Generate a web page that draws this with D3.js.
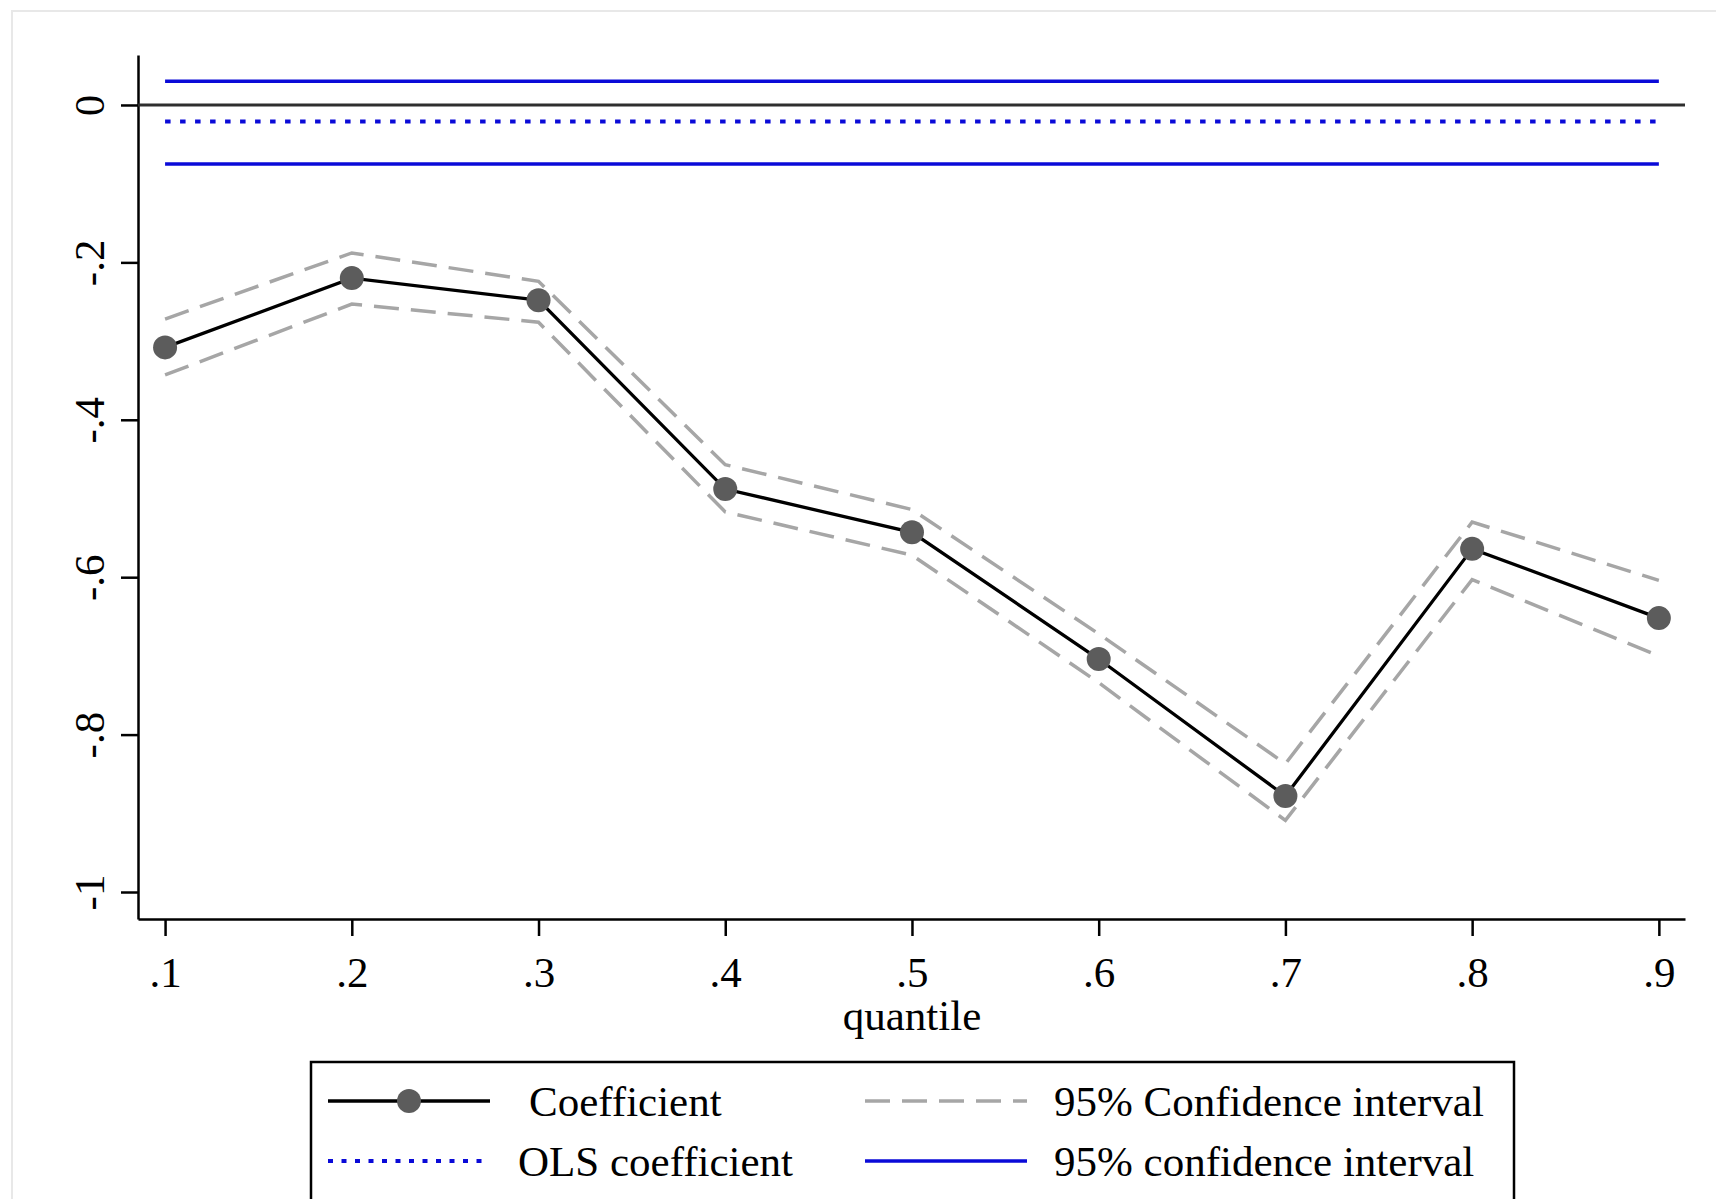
<!DOCTYPE html>
<meta charset="utf-8">
<script src="https://cdn.jsdelivr.net/npm/d3@7/dist/d3.min.js"></script>
<style>
  body { margin: 0; background: #fff; }
  svg text { font-family: "Liberation Serif", "Times New Roman", serif; font-size: 43px; fill: #000; }
</style>
<body>
<svg id="chart" width="1716" height="1199"></svg>
<script>
// quantiles and estimates
var quantiles = [0.1, 0.2, 0.3, 0.4, 0.5, 0.6, 0.7, 0.8, 0.9];
var coef  = [-0.308, -0.220, -0.248, -0.488, -0.543, -0.704, -0.878, -0.564, -0.652];
var ciUp  = [-0.272, -0.188, -0.224, -0.457, -0.514, -0.672, -0.837, -0.530, -0.604];
var ciLow = [-0.343, -0.253, -0.276, -0.517, -0.572, -0.734, -0.909, -0.603, -0.700];

var olsCoef = -0.021;
var olsUp = 0.030;
var olsLow = -0.075;

var yTicks = [0, -0.2, -0.4, -0.6, -0.8, -1];
var yTickLabels = ["0", "-.2", "-.4", "-.6", "-.8", "-1"];
var xTickLabels = [".1", ".2", ".3", ".4", ".5", ".6", ".7", ".8", ".9"];

var legendLabels = ["Coefficient", "95% Confidence interval", "OLS coefficient", "95% confidence interval"];

var svg = d3.select("#chart");

// faint outer frame
svg.append("rect").attr("x", 12).attr("y", 11).attr("width", 1800).attr("height", 1300)
  .style("fill", "#fff").style("stroke", "#e8e8e8").style("stroke-width", 2);

var x = d3.scaleLinear().domain([0.0855, 0.914]).range([138, 1685]);
var y = d3.scaleLinear().domain([-1.0343, 0.0635]).range([919, 55]);

// y axis
var yAx = svg.append("g").attr("transform", "translate(138,0)")
  .call(d3.axisLeft(y).tickValues(yTicks).tickSize(17).tickSizeOuter(0)
    .tickFormat(function (d, i) { return yTickLabels[i]; }));
yAx.select(".domain").style("stroke", "#000").style("stroke-width", 2.5);
yAx.selectAll(".tick line").style("stroke", "#000").style("stroke-width", 2.5);
yAx.selectAll(".tick text").attr("x", 0).attr("dy", 0).attr("text-anchor", "middle")
  .attr("transform", "translate(-34,0) rotate(-90)").style("font-size", "43px").style("font-family", null);

// x axis
var xAx = svg.append("g").attr("transform", "translate(0,919)")
  .call(d3.axisBottom(x).tickValues(quantiles).tickSize(17).tickSizeOuter(0)
    .tickFormat(function (d, i) { return xTickLabels[i]; }));
xAx.select(".domain").style("stroke", "#000").style("stroke-width", 2.5);
xAx.selectAll(".tick line").style("stroke", "#000").style("stroke-width", 2.5);
xAx.selectAll(".tick text").attr("y", 68).attr("dy", 0).style("font-size", "43px").style("font-family", null);

svg.append("text").attr("x", (x(0.1) + x(0.9)) / 2).attr("y", 1030)
  .attr("text-anchor", "middle").text("quantile");

// zero reference line
svg.append("line").attr("x1", 138).attr("x2", 1685).attr("y1", y(0)).attr("y2", y(0))
  .style("stroke", "#2e2e2e").style("stroke-width", 3.2);

// OLS coefficient and its interval
[olsUp, olsLow].forEach(function (v) {
  svg.append("line").attr("x1", x(0.1)).attr("x2", x(0.9)).attr("y1", y(v)).attr("y2", y(v))
    .style("stroke", "#0a0ad8").style("stroke-width", 3.5);
});
svg.append("line").attr("x1", x(0.1)).attr("x2", x(0.9)).attr("y1", y(olsCoef)).attr("y2", y(olsCoef))
  .style("stroke", "#0a0ad8").style("stroke-width", 4).style("stroke-dasharray", "5.5,9.5");

// quantile CI (dashed grey)
var line = d3.line().x(function (d) { return x(d[0]); }).y(function (d) { return y(d[1]); });
[ciUp, ciLow].forEach(function (s) {
  svg.append("path").datum(d3.zip(quantiles, s)).attr("d", line)
    .style("fill", "none").style("stroke", "#a6a6a6").style("stroke-width", 3.5)
    .style("stroke-dasharray", "25,12");
});

// coefficient line and markers
var pts = d3.zip(quantiles, coef);
svg.append("path").datum(pts).attr("d", line)
  .style("fill", "none").style("stroke", "#000").style("stroke-width", 3.3);
svg.selectAll("circle.pt").data(pts).enter().append("circle").attr("class", "pt")
  .attr("cx", function (d) { return x(d[0]); }).attr("cy", function (d) { return y(d[1]); })
  .attr("r", 12).style("fill", "#5c5c5c");

// legend
var lg = svg.append("g");
lg.append("rect").attr("x", 311).attr("y", 1062).attr("width", 1203).attr("height", 200)
  .style("fill", "#fff").style("stroke", "#000").style("stroke-width", 2.5);

var r1 = 1101, r2 = 1161;
lg.append("line").attr("x1", 328).attr("x2", 490).attr("y1", r1).attr("y2", r1)
  .style("stroke", "#000").style("stroke-width", 3.3);
lg.append("circle").attr("cx", 409).attr("cy", r1).attr("r", 12).style("fill", "#5c5c5c");
lg.append("text").attr("x", 529).attr("y", r1 + 15).text(legendLabels[0]);

lg.append("line").attr("x1", 865).attr("x2", 1027).attr("y1", r1).attr("y2", r1)
  .style("stroke", "#a6a6a6").style("stroke-width", 3.5).style("stroke-dasharray", "25,12");
lg.append("text").attr("x", 1054).attr("y", r1 + 15).text(legendLabels[1]);

lg.append("line").attr("x1", 328).attr("x2", 485).attr("y1", r2).attr("y2", r2)
  .style("stroke", "#0a0ad8").style("stroke-width", 4).style("stroke-dasharray", "5,8.5");
lg.append("text").attr("x", 518).attr("y", r2 + 15).text(legendLabels[2]);

lg.append("line").attr("x1", 865).attr("x2", 1027).attr("y1", r2).attr("y2", r2)
  .style("stroke", "#0a0ad8").style("stroke-width", 3.5);
lg.append("text").attr("x", 1054).attr("y", r2 + 15).text(legendLabels[3]);
</script>
</body>
